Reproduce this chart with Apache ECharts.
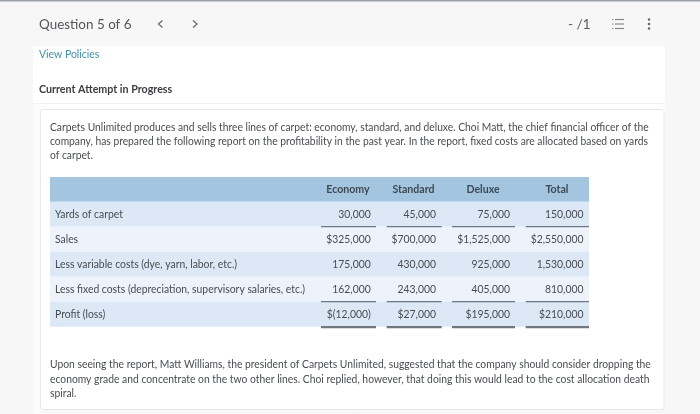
<!DOCTYPE html>
<html>
<head>
<meta charset="utf-8">
<style>html,body{margin:0;padding:0;background:#f7f7f8}#c{width:700px;height:414px;filter:blur(0.4px)}</style>
<script src="https://cdn.jsdelivr.net/npm/echarts@6/dist/echarts.min.js"></script>
</head>
<body>
<div id="c"></div>
<script>
const columns = ['Economy', 'Standard', 'Deluxe', 'Total'];
const rowLabels = ['Yards of carpet', 'Sales', 'Less variable costs (dye, yarn, labor, etc.)', 'Less fixed costs (depreciation, supervisory salaries, etc.)', 'Profit (loss)'];
const economy = ['30,000', '$325,000', '175,000', '162,000', '$(12,000)'];
const standard = ['45,000', '$700,000', '430,000', '243,000', '$27,000'];
const deluxe = ['75,000', '$1,525,000', '925,000', '405,000', '$195,000'];
const total = ['150,000', '$2,550,000', '1,530,000', '810,000', '$210,000'];
const introLines = [
  'Carpets Unlimited produces and sells three lines of carpet: economy, standard, and deluxe. Choi Matt, the chief financial officer of the',
  'company, has prepared the following report on the profitability in the past year. In the report, fixed costs are allocated based on yards',
  'of carpet.'
];
const outroLines = [
  'Upon seeing the report, Matt Williams, the president of Carpets Unlimited, suggested that the company should consider dropping the',
  'economy grade and concentrate on the two other lines. Choi replied, however, that doing this would lead to the cost allocation death',
  'spiral.'
];

const font = 'Lato';
const textCol = '#484c51';
const els = [];
function rect(x, y, w, h, fill, stroke, r) {
  els.push({type: 'rect', shape: {x, y, width: w, height: h, r: r || 0}, style: {fill, stroke: stroke || null, lineWidth: stroke ? 1 : 0}, silent: true});
}
function text(t, x, y, size, fill, opt) {
  opt = opt || {};
  els.push({type: 'text', x, y, scaleX: opt.sx || 1, silent: true, style: {text: t, fontFamily: font, fontSize: size, fontWeight: opt.weight || 'normal', fill, align: opt.align || 'left', verticalAlign: 'middle'}});
}
function chevron(points) {
  els.push({type: 'polyline', shape: {points}, style: {stroke: '#6a6e73', lineWidth: 1.3, fill: null}, silent: true});
}

// page
rect(0, 0, 700, 414, '#f7f7f8');
rect(0, 0, 700, 1.5, '#9a9fa8');
rect(33, 46, 632, 364, '#ffffff');
rect(33, 103, 632, 1, '#f1f1f2');
rect(33, 104, 7, 310, '#fbfbfb');
rect(40.5, 109.5, 623.5, 300, '#ffffff', '#e6e7e9', 2);

// header bar
text('Question 5 of 6', 39, 24.3, 14, '#53575c', {sx: 0.96});
chevron([[162.5, 20.5], [158.5, 24], [162.5, 27.5]]);
chevron([[193, 20.5], [197, 24], [193, 27.5]]);
text('-', 568, 24.3, 14, '#5b5f64');
text('/', 576.5, 24.3, 14, '#5b5f64');
text('1', 590.5, 24.3, 14, '#5b5f64', {align: 'right'});
[19.5, 24, 28.5].forEach(y => {
  rect(612, y - 0.5, 1.5, 1.2, '#9a9ea3');
  rect(615, y - 0.6, 9, 1.2, '#84888e');
});
[19.5, 24, 28.5].forEach(y => {
  els.push({type: 'circle', shape: {cx: 649, cy: y, r: 1.25}, style: {fill: '#666a6f'}, silent: true});
});

text('View Policies', 39, 54.7, 10.8, '#3f8ea6', {sx: 0.968});
text('Current Attempt in Progress', 39, 89.5, 10.8, '#3a3d41', {weight: 'bold', sx: 0.99});

introLines.forEach((l, i) => text(l, 50, 127.4 + i * 14.3, 10.8, textCol, {sx: 0.952}));
outroLines.forEach((l, i) => text(l, 50, 364.8 + i * 14.5, 10.8, textCol, {sx: 0.956}));

// table
const tableX = 50, tableR = 589, headTop = 177, headH = 24.7, rowH = 25;
const colRight = [370.7, 436, 510, 583.5];
const colCenter = [348, 413.5, 483, 557];
const ruleL = [321, 386.7, 452, 525.7];
const ruleR = [376, 441.7, 515, 589];
const cols = [economy, standard, deluxe, total];
rect(tableX, headTop, tableR - tableX, headH, '#a3c5df');
columns.forEach((c, j) => text(c, colCenter[j], headTop + 12.5, 10.8, '#3d4a55', {align: 'center', weight: 'bold', sx: 0.98}));
rowLabels.forEach((label, i) => {
  const top = headTop + headH + i * rowH;
  rect(tableX, top, tableR - tableX, rowH, i % 2 ? '#edf3fb' : '#dce8f6');
  text(label, 55, top + 12.5, 10.8, textCol, {sx: 0.96});
  cols.forEach((vals, j) => text(vals[i], colRight[j], top + 12.5, 10.8, textCol, {align: 'right', sx: 0.96}));
});
// accounting rules under rows 0, 3 (single) and 4 (heavy)
[[0, 1.2, '#6f7780'], [3, 1.2, '#6f7780'], [4, 2.2, '#70777f']].forEach(([i, h, col]) => {
  const y = headTop + headH + (i + 1) * rowH;
  ruleL.forEach((l, j) => rect(l, y - 0.6, ruleR[j] - l, h, col));
});

const chart = echarts.init(document.getElementById('c'), null, {renderer: 'canvas'});
chart.setOption({animation: false, graphic: {elements: els}});
</script>
</body>
</html>
